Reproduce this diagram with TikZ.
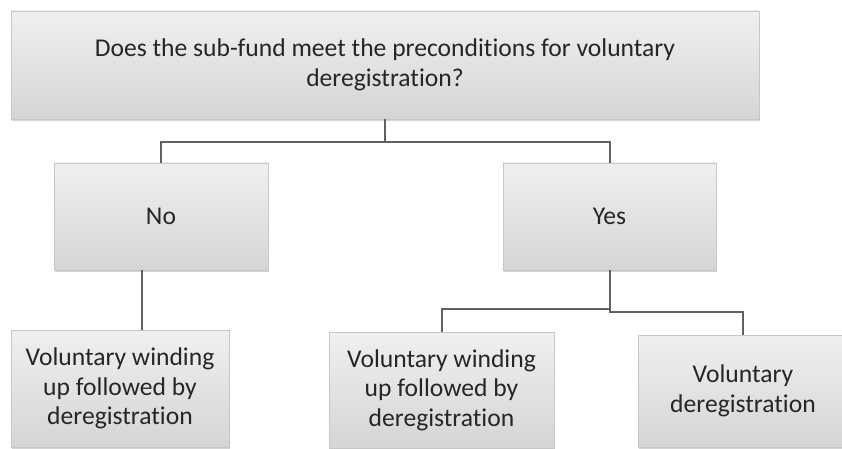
\documentclass[tikz,border=0pt]{standalone}
\usepackage{fontspec}
\setmainfont{Carlito}[Ligatures=NoCommon]
\usepackage{tikz}
\usetikzlibrary{shadows}

\begin{document}
\begin{tikzpicture}[x=0.5pt, y=-0.5pt,
	box/.style={rectangle, draw=gray!45, line width=0.4pt, top color=gray!12, bottom color=gray!33, inner sep=0pt, align=center, font=\fontsize{12.8}{14.8}\selectfont, text=black!85, drop shadow={shadow xshift=0.6pt, shadow yshift=-0.8pt, opacity=0.35}},
	link/.style={draw=black!62, line width=1pt}]
						\useasboundingbox (0,0) rectangle (842,449);
						\node[box, minimum width=374pt, minimum height=54pt] (q) at (385,65) {Does the sub-fund meet the preconditions for voluntary\\deregistration?};
						\node[box, minimum width=107pt, minimum height=53.5pt] (no) at (161,216.5) {No};
						\node[box, minimum width=106.5pt, minimum height=53.5pt] (yes) at (609.5,216.5) {Yes};
						\node[box, minimum width=109pt, minimum height=58.5pt] (w1) at (120,388.5) {Voluntary winding\\up followed by\\deregistration};
						\node[box, minimum width=112.5pt, minimum height=58pt] (w2) at (441.5,390) {Voluntary winding\\up followed by\\deregistration};
						\node[box, minimum width=105pt, minimum height=56pt] (d) at (743,391) {Voluntary\\deregistration};
						\coordinate (qs) at (385,142);
						\coordinate (ys) at (609.5,309);
						\coordinate (yd) at (609.5,312);
						\draw[link] (q.south) -- (qs) -| (no.north);
						\draw[link] (qs) -| (yes.north);
						\draw[link] ([xshift=-9.5pt]no.south) -- ([xshift=-9.5pt]no.south |- w1.north);
						\draw[link] (yes.south) -- (ys) -| (w2.north);
						\draw[link] (yes.south) -- (yd) -| (d.north);
					\end{tikzpicture}
\end{document}
